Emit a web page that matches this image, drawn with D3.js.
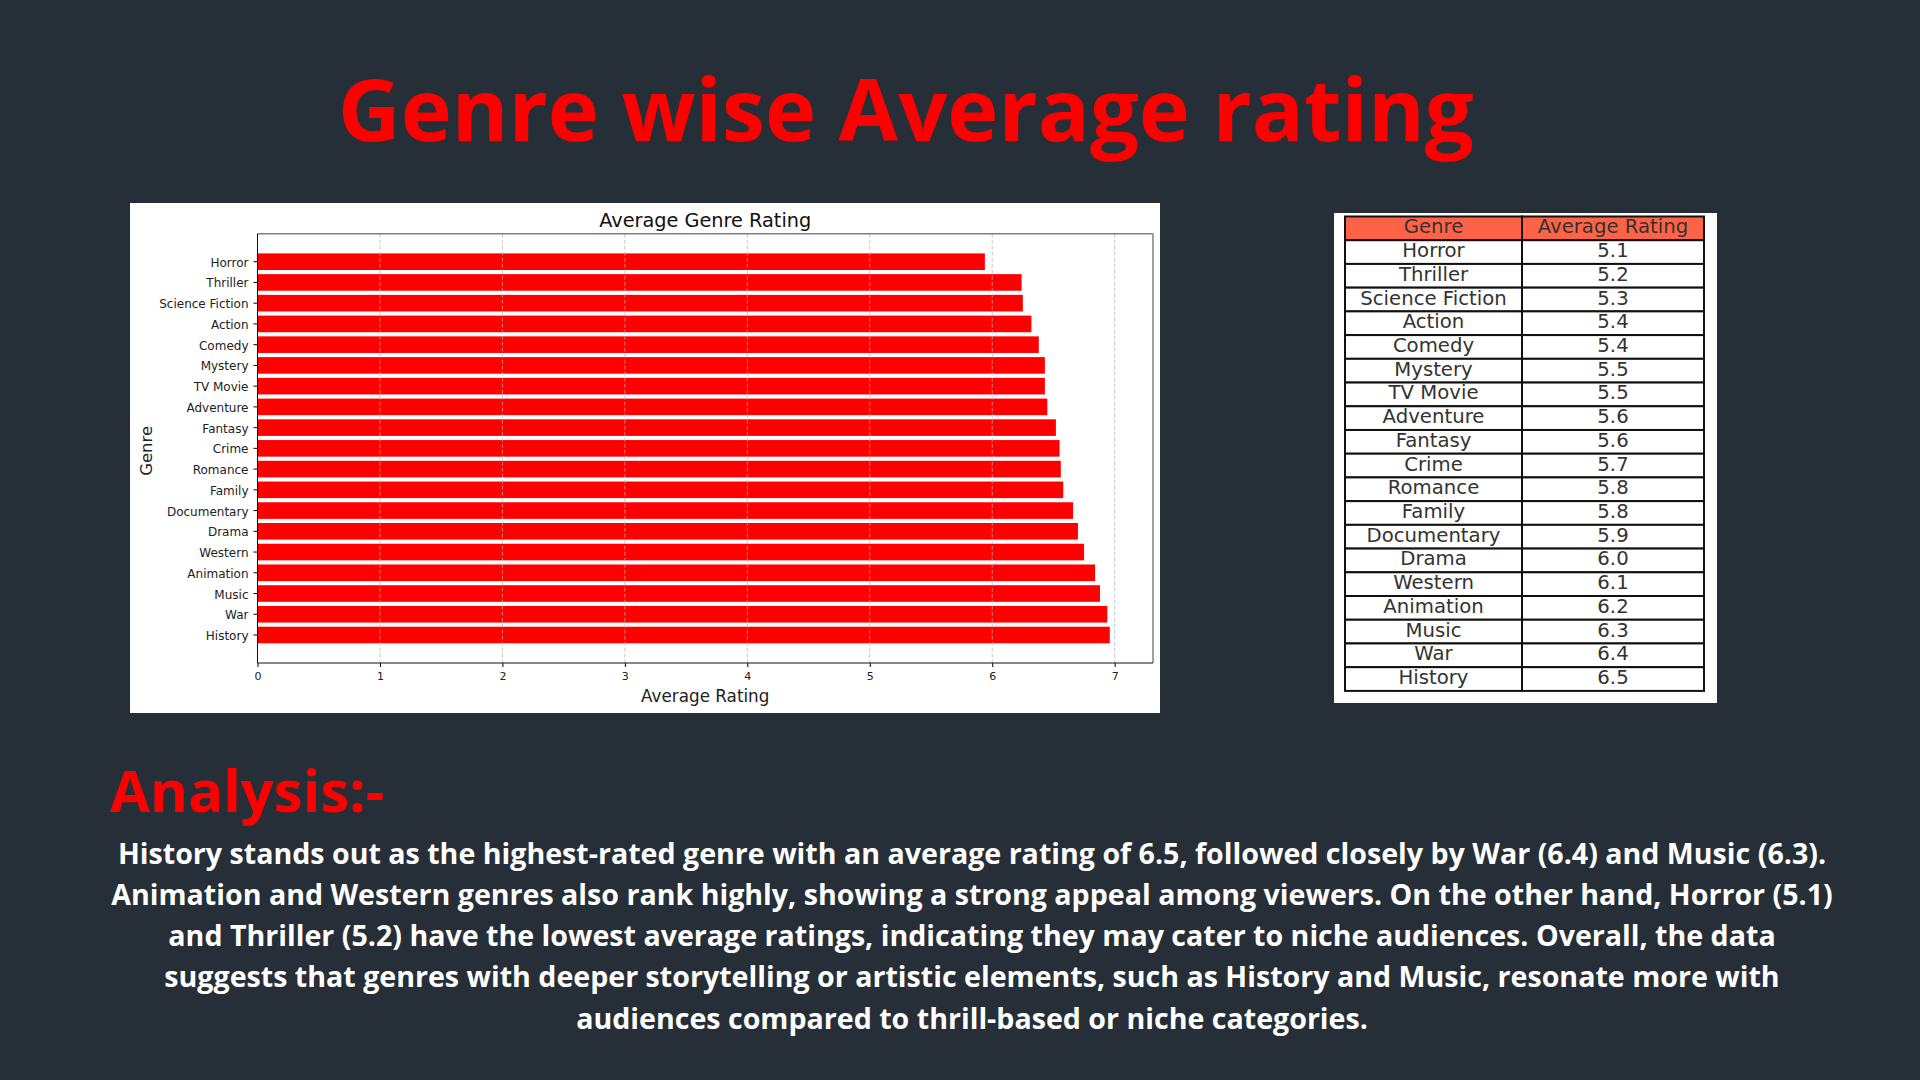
<!DOCTYPE html>
<html>
<head>
<meta charset="utf-8">
<script src="https://cdn.jsdelivr.net/npm/d3@7"></script>
<style>
  html, body { margin: 0; padding: 0; background: #262e37; }
  svg { display: block; }
  .mpl { font-family: "DejaVu Sans", sans-serif; }
  .head { font-family: "Open Sans", sans-serif; font-weight: 700; }
</style>
</head>
<body>
<div id="chart"></div>
<script>
// bar chart values
var genres = ["Horror", "Thriller", "Science Fiction", "Action", "Comedy", "Mystery", "TV Movie", "Adventure", "Fantasy", "Crime", "Romance", "Family", "Documentary", "Drama", "Western", "Animation", "Music", "War", "History"];
var barRatings = [5.94, 6.24, 6.25, 6.32, 6.38, 6.43, 6.43, 6.45, 6.52, 6.55, 6.56, 6.58, 6.66, 6.70, 6.75, 6.84, 6.88, 6.94, 6.96];
var xTicks = [0, 1, 2, 3, 4, 5, 6, 7];

// table on the right has its own numbers
var tableHeader = ["Genre", "Average Rating"];
var tableRatings = ["5.1", "5.2", "5.3", "5.4", "5.4", "5.5", "5.5", "5.6", "5.6", "5.7", "5.8", "5.8", "5.9", "6.0", "6.1", "6.2", "6.3", "6.4", "6.5"];

var analysisLines = [
  "History stands out as the highest-rated genre with an average rating of 6.5, followed closely by War (6.4) and Music (6.3).",
  "Animation and Western genres also rank highly, showing a strong appeal among viewers. On the other hand, Horror (5.1)",
  "and Thriller (5.2) have the lowest average ratings, indicating they may cater to niche audiences. Overall, the data",
  "suggests that genres with deeper storytelling or artistic elements, such as History and Music, resonate more with",
  "audiences compared to thrill-based or niche categories."
];

var svg = d3.select("#chart").append("svg")
    .attr("width", 1920)
    .attr("height", 1080);

svg.append("rect")
    .attr("width", 1920)
    .attr("height", 1080)
    .attr("fill", "#262e37");

svg.append("text")
    .attr("class", "head")
    .attr("x", 338)
    .attr("y", 141)
    .attr("font-size", 86.5)
    .attr("fill", "#ff0000")
    .text("Genre wise Average rating");

// ---- bar chart panel
svg.append("rect")
    .attr("x", 130)
    .attr("y", 203)
    .attr("width", 1030)
    .attr("height", 510)
    .attr("fill", "white");

var margin = { top: 233.7, right: 767, bottom: 417, left: 257.5 };
var w = 1920 - margin.left - margin.right;
var h = 1080 - margin.top - margin.bottom;

var g = svg.append("g")
    .attr("class", "mpl")
    .attr("transform", "translate(" + margin.left + "," + margin.top + ")");

var x = d3.scaleLinear()
    .domain([0, 7.313])
    .range([0, w]);

var y = d3.scaleBand()
    .domain(genres)
    .range([0, h])
    .paddingInner(0.2)
    .paddingOuter(0.95);

g.selectAll(".bar")
    .data(genres)
    .enter()
    .append("rect")
    .attr("class", "bar")
    .attr("x", 0)
    .attr("y", function(d) { return y(d); })
    .attr("width", function(d, i) { return x(barRatings[i]); })
    .attr("height", y.bandwidth())
    .attr("fill", "#ff0000");

// grid sits on top of the bars
g.selectAll(".grid")
    .data(xTicks.slice(1))
    .enter()
    .append("line")
    .attr("class", "grid")
    .attr("x1", function(d) { return x(d); })
    .attr("x2", function(d) { return x(d); })
    .attr("y1", 0)
    .attr("y2", h)
    .attr("stroke", "#b0b0b0")
    .attr("stroke-opacity", 0.7)
    .attr("stroke-width", 1)
    .attr("stroke-dasharray", "4,2");

var xAxis = g.append("g")
    .attr("transform", "translate(0," + h + ")")
    .call(d3.axisBottom(x).tickValues(xTicks).tickFormat(d3.format("d")).tickSize(4).tickPadding(5));
xAxis.select(".domain").remove();
xAxis.selectAll("text").attr("font-size", 11).attr("font-family", "DejaVu Sans").attr("fill", "#222");

var yAxis = g.append("g")
    .call(d3.axisLeft(y).tickSize(4).tickPadding(5));
yAxis.select(".domain").remove();
yAxis.selectAll("text").attr("font-size", 12).attr("font-family", "DejaVu Sans").attr("fill", "#222").attr("dy", "0.42em");

// spines: top and right come out grey in the picture
g.append("line").attr("x1", 0).attr("x2", w).attr("y1", 0).attr("y2", 0).attr("stroke", "#808080").attr("stroke-width", 1.5);
g.append("line").attr("x1", w).attr("x2", w).attr("y1", 0).attr("y2", h).attr("stroke", "#808080").attr("stroke-width", 1.5);
g.append("line").attr("x1", 0).attr("x2", 0).attr("y1", 0).attr("y2", h).attr("stroke", "#111").attr("stroke-width", 1);
g.append("line").attr("x1", 0).attr("x2", w).attr("y1", h).attr("y2", h).attr("stroke", "#111").attr("stroke-width", 1);

g.append("text")
    .attr("x", w / 2)
    .attr("y", -7)
    .attr("text-anchor", "middle")
    .attr("font-size", 19.3)
    .attr("fill", "#111")
    .text("Average Genre Rating");

g.append("text")
    .attr("x", w / 2)
    .attr("y", h + 39)
    .attr("text-anchor", "middle")
    .attr("font-size", 16.8)
    .attr("fill", "#222")
    .text("Average Rating");

g.append("text")
    .attr("transform", "translate(" + (-106) + "," + (h / 2 + 2.5) + ")rotate(-90)")
    .attr("text-anchor", "middle")
    .attr("font-size", 16.5)
    .attr("fill", "#222")
    .text("Genre");

// ---- table panel
svg.append("rect")
    .attr("x", 1334)
    .attr("y", 213)
    .attr("width", 383)
    .attr("height", 490)
    .attr("fill", "white");

var tableX = [1345, 1522, 1704];
var tableTop = 216.5;
var rowH = 23.72;
var rows = [tableHeader].concat(genres.map(function(d, i) { return [d, tableRatings[i]]; }));

var table = svg.append("g").attr("class", "mpl");

var row = table.selectAll(".row")
    .data(rows)
    .enter()
    .append("g")
    .attr("class", "row")
    .attr("transform", function(d, i) { return "translate(0," + (tableTop + i * rowH) + ")"; });

[0, 1].forEach(function(c) {
    row.append("rect")
        .attr("x", tableX[c])
        .attr("y", 0)
        .attr("width", tableX[c + 1] - tableX[c])
        .attr("height", rowH)
        .attr("fill", function(d, i) { return i == 0 ? "#ff6347" : "white"; })
        .attr("stroke", "#111")
        .attr("stroke-width", 2);

    row.append("text")
        .attr("x", (tableX[c] + tableX[c + 1]) / 2)
        .attr("y", rowH / 2 + 5)
        .attr("text-anchor", "middle")
        .attr("font-size", 19.7)
        .attr("fill", "#333")
        .text(function(d) { return d[c]; });
});

// ---- analysis text
svg.append("text")
    .attr("class", "head")
    .attr("x", 110)
    .attr("y", 812)
    .attr("font-size", 58)
    .attr("fill", "#ff0000")
    .text("Analysis:-");

svg.selectAll(".line")
    .data(analysisLines)
    .enter()
    .append("text")
    .attr("class", "head line")
    .attr("x", 972)
    .attr("y", function(d, i) { return 863.5 + i * 41.3; })
    .attr("text-anchor", "middle")
    .attr("font-size", 28.6)
    .attr("fill", "white")
    .text(function(d) { return d; });
</script>
</body>
</html>
